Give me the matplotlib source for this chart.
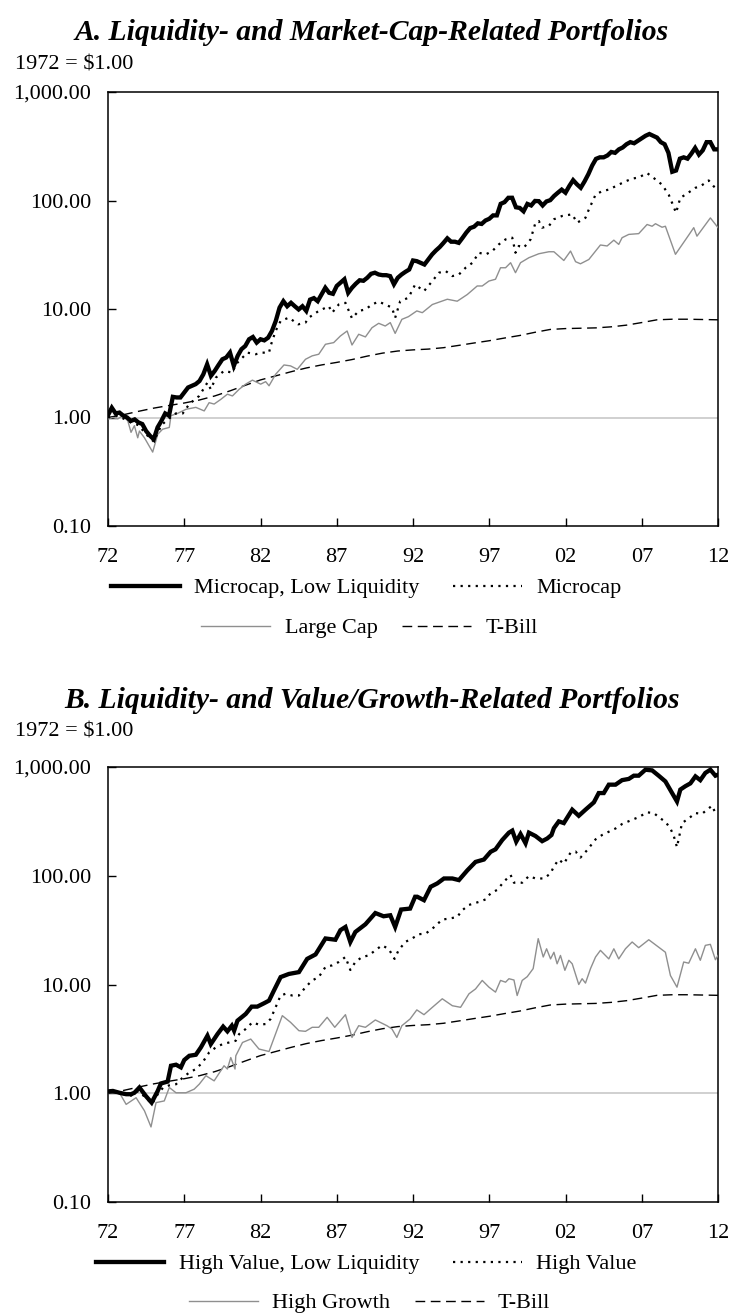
import numpy as np
import matplotlib
matplotlib.use("Agg")
import matplotlib.pyplot as plt
from matplotlib.lines import Line2D
from matplotlib.ticker import FixedLocator, FixedFormatter, NullLocator

plt.rcParams['font.family'] = ['Liberation Serif', 'DejaVu Serif']

# ---------------- DATA ----------------
x_tick_years = [1972, 1977, 1982, 1987, 1992, 1997, 2002, 2007, 2012]
x_tick_labels = ["72", "77", "82", "87", "92", "97", "02", "07", "12"]
y_ticks = [0.1, 1, 10, 100, 1000]
y_tick_labels = ["0.10", "1.00", "10.00", "100.00", "1,000.00"]

# T-bill (same in both panels), annual
tbill_years = list(range(1972, 2013))
tbill_vals = [1.00, 1.06, 1.14, 1.22, 1.29, 1.36, 1.45, 1.58, 1.76, 1.98, 2.22, 2.42,
              2.64, 2.86, 3.05, 3.22, 3.42, 3.68, 3.92, 4.10, 4.20, 4.27, 4.40, 4.62,
              4.86, 5.10, 5.40, 5.70, 6.10, 6.48, 6.60, 6.65, 6.70, 6.85, 7.10, 7.50,
              7.95, 8.05, 8.05, 8.00, 7.95]

# Panel A: Microcap, Low Liquidity (quarterly, 1972Q1 .. 2012Q1)
a_thick_vals = [
    1.05, 1.23, 1.09, 1.11, 1.04, 1.00, 0.93, 0.96, 0.90, 0.87, 0.75, 0.68,
    0.63, 0.81, 0.93, 1.09, 1.04, 1.55, 1.53, 1.53, 1.70, 1.89, 1.96, 2.03,
    2.17, 2.50, 3.09, 2.42, 2.69, 3.05, 3.44, 3.57, 3.96, 2.99, 3.69, 4.26,
    4.56, 5.26, 5.52, 4.90, 5.26, 5.14, 5.44, 6.27, 7.75, 10.3, 11.8, 10.6,
    11.4, 10.6, 9.9, 10.6, 9.6, 12.2, 12.6, 11.8, 13.6, 15.7, 14.1, 13.8,
    16.3, 17.5, 18.8, 14.1, 15.7, 17.1, 18.4, 18.2, 19.4, 21.1, 21.6, 20.8,
    20.5, 20.5, 20.1, 16.9, 19.4, 20.8, 22.0, 23.1, 28.0, 27.6, 26.6, 25.7,
    28.6, 31.8, 34.6, 37.2, 40.7, 44.8, 41.7, 41.7, 40.7, 45.3, 50.7, 55.7,
    57.3, 61.6, 60.8, 65.4, 67.8, 72.9, 72.9, 93.2, 96.5, 105.9, 106.0, 86.6,
    85.4, 79.5, 93.0, 90.0, 99.0, 98.6, 90.0, 98.0, 100.7, 110, 118, 126,
    118, 136, 154, 141, 131, 150, 175, 210, 242, 250, 250, 260,
    280, 275, 296, 308, 330, 345, 337, 355, 375, 395, 410, 395,
    380, 345, 330, 275, 184, 189, 243, 250, 243, 270, 305, 265,
    290, 345, 345, 296, 296]
a_thick_years = [1972 + 0.25 * i for i in range(len(a_thick_vals))]

# Panel A: Microcap (dotted)
a_dot_yr = [72.0, 72.5, 73.0, 73.5, 74.0, 74.5, 75.0, 75.5, 76.0, 76.45, 76.9, 77.33, 77.98,
            78.52, 78.74, 79.07, 79.61, 80.16, 80.38, 81.14, 81.68, 82.12, 82.56, 82.66,
            82.99, 83.32, 83.86, 84.47, 84.95, 85.17, 85.82, 86.48, 86.70, 87.13, 87.57,
            88.00, 88.44, 88.88, 89.31, 89.75, 90.18, 90.62, 90.83, 91.16, 91.70, 92.14,
            92.72, 93.27, 93.70, 94.14, 94.58, 95.01, 95.45, 95.89, 96.32, 96.76, 97.20,
            97.63, 98.07, 98.51, 98.72, 98.94, 99.27, 99.71, 100.03, 100.25, 100.47,
            100.91, 101.24, 101.78, 102.44, 102.76, 103.31, 103.53, 103.97, 104.40,
            104.84, 105.49, 105.93, 106.37, 106.80, 107.35, 107.79, 108.33, 108.77,
            108.99, 109.25, 109.53, 109.86, 110.52, 110.84, 111.39, 111.72, 112.0]
a_dot_vals = [1.00, 1.04, 0.98, 0.90, 0.85, 0.70, 0.60, 0.85, 0.98, 1.09, 1.09, 1.33, 1.58,
              2.10, 1.82, 2.33, 2.69, 2.59, 3.09, 3.96, 3.83, 3.96, 3.96, 4.56,
              6.27, 7.75, 8.33, 7.22, 7.49, 8.33, 9.6, 10.6, 9.25, 11.0, 11.4,
              8.2, 9.6, 9.9, 11.0, 11.7, 11.0, 10.3, 8.3, 11.8, 12.7, 16.8,
              14.6, 18.1, 21.6, 22.4, 20.1, 20.8, 24.0, 26.6, 33.0, 31.8, 34.2,
              39.4, 43.8, 45.4, 33.0, 38.1, 36.8, 43.8, 62.4, 64.7, 56.2,
              58.2, 67.1, 72.0, 74.6, 62.4, 69.3, 82.6, 113, 122,
              126, 140, 150, 159, 163, 179, 161, 140, 113,
              95, 77, 106, 113, 131, 135, 153, 135, 125]

# Panel A: Large Cap (gray)
a_gray_yr = [72.0, 72.32, 72.64, 72.97, 73.30, 73.51, 73.73, 73.95, 74.06, 74.39, 74.93,
             75.26, 75.58, 76.02, 76.13, 76.56, 77.11, 77.76, 78.31, 78.63, 78.96, 79.40,
             79.83, 80.16, 80.60, 81.03, 81.47, 82.01, 82.34, 82.56, 82.99, 83.54, 83.97,
             84.41, 84.95, 85.39, 85.82, 86.26, 86.80, 87.24, 87.68, 88.00, 88.44, 88.88,
             89.31, 89.75, 90.18, 90.51, 90.83, 91.27, 91.70, 92.25, 92.61, 93.27, 94.25,
             94.90, 95.56, 96.21, 96.54, 96.98, 97.41, 97.74, 98.07, 98.40, 98.72, 99.05,
             99.60, 100.25, 100.91, 101.24, 101.89, 102.33, 102.66, 102.98, 103.53,
             104.29, 104.73, 105.17, 105.49, 105.71, 106.15, 106.80, 107.35, 107.68,
             107.90, 108.33, 108.55, 109.21, 110.08, 110.41, 110.62, 111.50, 112.0]
a_gray_vals = [0.97, 1.00, 0.97, 1.04, 0.93, 0.73, 0.84, 0.65, 0.75, 0.65, 0.48,
               0.70, 0.78, 0.81, 1.04, 1.09, 1.19, 1.24, 1.15, 1.37, 1.33, 1.47,
               1.64, 1.58, 1.82, 2.03, 2.21, 2.03, 2.14, 1.96, 2.50, 3.05, 2.99,
               2.78, 3.44, 3.70, 3.83, 4.73, 4.90, 5.64, 6.27, 4.66, 5.85, 5.53,
               6.72, 7.38, 6.97, 7.49, 5.96, 8.03, 8.50, 9.6, 9.25, 11.0, 12.3,
               11.8, 13.6, 16.3, 16.3, 18.1, 18.8, 24.0, 24.0, 26.7, 21.6, 26.7,
               29.7, 32.3, 33.7, 33.7, 28.0, 34.2, 27.3, 26.1, 28.6,
               38.9, 38.1, 43.1, 39.4, 45.4, 48.7, 49.5, 60.1, 57.9,
               61.1, 56.7, 57.9, 31.9, 48.0, 56.2, 46.9, 69.1, 56.2]

# Panel B: High Value, Low Liquidity (thick)
b_thick_yr = [72.0, 72.32, 72.75, 73.19, 73.51, 73.73, 74.06, 74.49, 74.86, 75.26, 75.47,
              75.91, 76.13, 76.46, 76.78, 77.00, 77.33, 77.76, 78.09, 78.52, 78.74, 79.18,
              79.55, 79.83, 80.12, 80.27, 80.49, 81.03, 81.42, 81.79, 82.23, 82.56, 82.88,
              83.32, 83.86, 84.52, 85.06, 85.61, 86.26, 86.91, 87.24, 87.57, 87.89, 88.22,
              88.88, 89.53, 90.07, 90.51, 90.83, 91.22, 91.81, 92.14, 92.28, 92.72, 93.16,
              93.59, 94.03, 94.58, 95.01, 95.56, 96.10, 96.65, 97.09, 97.41, 97.85, 98.29,
              98.51, 98.77, 99.05, 99.38, 99.60, 100.03, 100.47, 100.80, 101.08, 101.24,
              101.56, 101.89, 102.44, 102.87, 103.31, 103.86, 104.18, 104.51, 104.84,
              105.28, 105.71, 106.15, 106.48, 106.80, 107.24, 107.68, 108.11, 108.55,
              108.99, 109.31, 109.53, 109.86, 110.19, 110.52, 110.84, 111.17, 111.50,
              111.83, 112.0]
b_thick_vals = [1.04, 1.05, 1.01, 0.98, 0.98, 1.01, 1.13, 0.94, 0.82, 1.05, 1.23,
                1.28, 1.79, 1.83, 1.73, 2.02, 2.21, 2.26, 2.64, 3.38, 2.83, 3.50,
                4.10, 3.71, 4.18, 3.76, 4.65, 5.36, 6.26, 6.26, 6.72, 7.11, 8.80,
                11.7, 12.5, 13.0, 17.2, 18.9, 26.5, 25.8, 31.6, 33.8, 24.6, 30.4,
                35.8, 45.4, 42.4, 43.3, 33.8, 48.9, 49.9, 64.1, 64.1, 59.6, 79.2,
                85.0, 94.4, 94.4, 91.2, 112, 134, 141, 166, 175, 213, 249,
                260, 206, 242, 199, 249, 232, 208, 220, 237, 274,
                316, 305, 405, 356, 405, 473, 576, 576, 688,
                688, 757, 777, 832, 832, 944, 931, 832, 737,
                576, 482, 620, 666, 707, 820, 757, 882, 944,
                832, 850]

# Panel B: High Value (dotted)
b_dot_yr = [72.0, 72.5, 73.0, 73.5, 74.0, 74.5, 74.9, 75.3, 75.6, 76.0, 76.46, 76.89,
            77.33, 77.76, 78.20, 78.63, 79.07, 79.51, 79.94, 80.38, 80.60, 81.03, 81.47,
            81.90, 82.34, 82.66, 82.99, 83.32, 83.64, 84.08, 84.52, 84.95, 85.39, 85.82,
            86.26, 86.70, 87.13, 87.57, 87.89, 88.22, 88.66, 89.09, 89.53, 89.96, 90.40,
            90.79, 91.05, 91.49, 91.92, 92.39, 92.83, 93.27, 93.92, 94.36, 94.90, 95.23,
            95.67, 96.32, 96.76, 97.09, 97.52, 97.96, 98.40, 98.62, 99.16, 99.60, 100.03,
            100.58, 101.02, 101.24, 101.56, 101.89, 102.33, 102.66, 102.98, 103.42,
            103.97, 104.40, 104.84, 105.28, 105.71, 106.37, 106.80, 107.35, 107.79,
            108.22, 108.55, 108.88, 109.10, 109.31, 109.64, 110.08, 110.52, 110.95,
            111.61, 111.83, 112.0]
b_dot_vals = [1.02, 1.02, 0.98, 0.95, 1.05, 0.90, 0.80, 1.00, 1.12, 1.18, 1.21, 1.39,
              1.55, 1.67, 1.92, 2.37, 2.64, 2.83, 2.93, 3.04, 3.50, 3.90, 4.49,
              4.27, 4.33, 4.82, 6.17, 7.92, 8.21, 7.92, 7.92, 9.45, 10.9, 11.7,
              14.5, 15.0, 16.1, 17.9, 13.6, 16.1, 17.9, 18.5, 20.6, 22.9, 21.3,
              17.2, 20.6, 24.6, 26.4, 29.0, 29.4, 32.6, 39.6, 40.3, 41.8, 48.2,
              53.9, 57.5, 60.6, 69.0, 74.1, 88.2, 101.7, 86.3, 86.3, 99.3, 94.4,
              94.4, 105, 122, 141, 129, 163, 167, 147, 172,
              216, 237, 254, 272, 299, 327, 346, 383, 377,
              337, 314, 272, 232, 183, 305, 337, 377, 371,
              441, 377, 391]

# Panel B: High Growth (gray)
b_gray_yr = [72.0, 72.75, 73.19, 73.84, 74.39, 74.82, 75.15, 75.69, 76.02, 76.46, 77.11,
             77.65, 77.98, 78.42, 78.96, 79.61, 79.83, 80.05, 80.33, 80.38, 80.82, 81.36,
             81.90, 82.56, 83.43, 83.97, 84.52, 84.95, 85.39, 85.82, 86.37, 86.87, 87.57,
             88.00, 88.44, 88.88, 89.53, 90.29, 90.62, 90.94, 91.27, 91.81, 92.25, 92.72,
             93.27, 93.92, 94.58, 95.12, 95.67, 96.10, 96.54, 96.98, 97.41, 97.74, 98.07,
             98.29, 98.62, 98.83, 99.16, 99.49, 99.88, 100.21, 100.54, 100.76, 101.02,
             101.24, 101.45, 101.67, 101.96, 102.22, 102.44, 102.87, 103.09, 103.31,
             103.64, 103.97, 104.29, 104.84, 105.17, 105.49, 105.93, 106.37, 106.80,
             107.46, 108.55, 108.88, 109.31, 109.75, 110.08, 110.52, 110.84, 111.17,
             111.50, 111.83, 112.0]
b_gray_vals = [1.01, 1.01, 0.79, 0.91, 0.69, 0.49, 0.82, 0.85, 1.13, 1.01, 1.01,
               1.09, 1.21, 1.45, 1.30, 1.79, 1.67, 2.13, 1.67, 2.21, 2.93, 3.15,
               2.55, 2.42, 5.17, 4.49, 3.76, 3.71, 4.04, 4.04, 4.99, 4.04, 5.28,
               3.26, 4.18, 4.04, 4.72, 4.18, 3.90, 3.26, 4.18, 4.82, 5.84, 5.28,
               6.17, 7.39, 6.38, 6.17, 8.21, 9.10, 10.9, 9.45, 8.51, 10.9, 10.5,
               11.3, 11.0, 7.92, 10.9, 11.8, 14.0, 26.4, 17.9, 21.3, 17.2,
               19.8, 15.5, 18.5, 13.5, 16.7, 15.5, 10.0, 11.3, 10.3,
               14.0, 17.9, 20.6, 17.2, 21.3, 17.2, 21.3, 24.6, 21.8,
               25.8, 19.8, 12.1, 9.45, 16.1, 15.7, 21.3, 16.7, 22.9,
               23.4, 16.9, 18.5]

panel_titles = ["A. Liquidity- and Market-Cap-Related Portfolios",
                "B. Liquidity- and Value/Growth-Related Portfolios"]
legend_a = ["Microcap, Low Liquidity", "Microcap", "Large Cap", "T-Bill"]
legend_b = ["High Value, Low Liquidity", "High Value", "High Growth", "T-Bill"]
base_label = "1972 = $1.00"

# ---------------- STYLE ----------------
W, H = 732, 1315
BODY = 16
THICK = dict(color="black", lw=3.1, solid_joinstyle="miter")
DOT = dict(color="black", lw=1.6, linestyle=(0, (1, 2.4)))
GRAY = dict(color="#8f8f8f", lw=1.0)
DASH = dict(color="black", lw=1.0, linestyle=(0, (7, 4)))

fig = plt.figure(figsize=(W / 100, H / 100), dpi=100)


def fy(px):
    return 1 - px / H


def fx(px):
    return px / W


def draw_panel(top_px, bot_px, title_px, base_px, leg1_px, leg2_px,
               title, labels, thick, dot, gray):
    ax = fig.add_axes([fx(108), fy(bot_px), fx(718) - fx(108), fy(top_px) - fy(bot_px)])
    ax.set_yscale("log")
    ax.axhline(1.0, color="#c8c8c8", lw=1.2, zorder=1)
    ax.plot(tbill_years, tbill_vals, zorder=2, **DASH)
    ax.plot(gray[0], gray[1], zorder=3, **GRAY)
    ax.plot(dot[0], dot[1], zorder=4, **DOT)
    ax.plot(thick[0], thick[1], zorder=5, **THICK)
    ax.set_xlim(1972, 2012)
    ax.set_ylim(0.1, 1000)
    ax.yaxis.set_major_locator(FixedLocator(y_ticks))
    ax.yaxis.set_major_formatter(FixedFormatter(y_tick_labels))
    ax.yaxis.set_minor_locator(NullLocator())
    ax.xaxis.set_major_locator(FixedLocator(x_tick_years))
    ax.xaxis.set_major_formatter(FixedFormatter(x_tick_labels))
    ax.tick_params(axis="both", direction="in", length=6, width=1.0,
                   labelsize=BODY, colors="black")
    ax.tick_params(axis="y", pad=12)
    ax.tick_params(axis="x", pad=16)
    for s in ax.spines.values():
        s.set_linewidth(1.1)
    fig.text(fx(372), fy(title_px + 3), title, ha="center", va="center",
             fontsize=21.3, fontweight="bold", fontstyle="italic")
    fig.text(fx(15), fy(base_px), base_label, ha="left", va="center", fontsize=BODY)
    h = [Line2D([], [], **THICK), Line2D([], [], **DOT),
         Line2D([], [], **GRAY), Line2D([], [], **DASH)]
    fig.legend(h[:2], labels[:2], loc="center", bbox_to_anchor=(0.5, fy(leg1_px)),
               ncol=2, frameon=False, fontsize=BODY, handlelength=3.1,
               handletextpad=0.65, columnspacing=1.5, borderpad=0, borderaxespad=0)
    fig.legend(h[2:], labels[2:], loc="center", bbox_to_anchor=(0.505, fy(leg2_px)),
               ncol=2, frameon=False, fontsize=BODY, handlelength=3.1,
               handletextpad=0.65, columnspacing=1.1, borderpad=0, borderaxespad=0)
    return ax


def to_years(yrs):
    return [1900 + y for y in yrs]


draw_panel(92, 526, 30, 65, 588, 628, panel_titles[0], legend_a,
           (a_thick_years, a_thick_vals), (to_years(a_dot_yr), a_dot_vals),
           (to_years(a_gray_yr), a_gray_vals))
draw_panel(767, 1202, 697, 732, 1264, 1303, panel_titles[1], legend_b,
           (to_years(b_thick_yr), b_thick_vals), (to_years(b_dot_yr), b_dot_vals),
           (to_years(b_gray_yr), b_gray_vals))

fig.savefig("out.png", dpi=100)
